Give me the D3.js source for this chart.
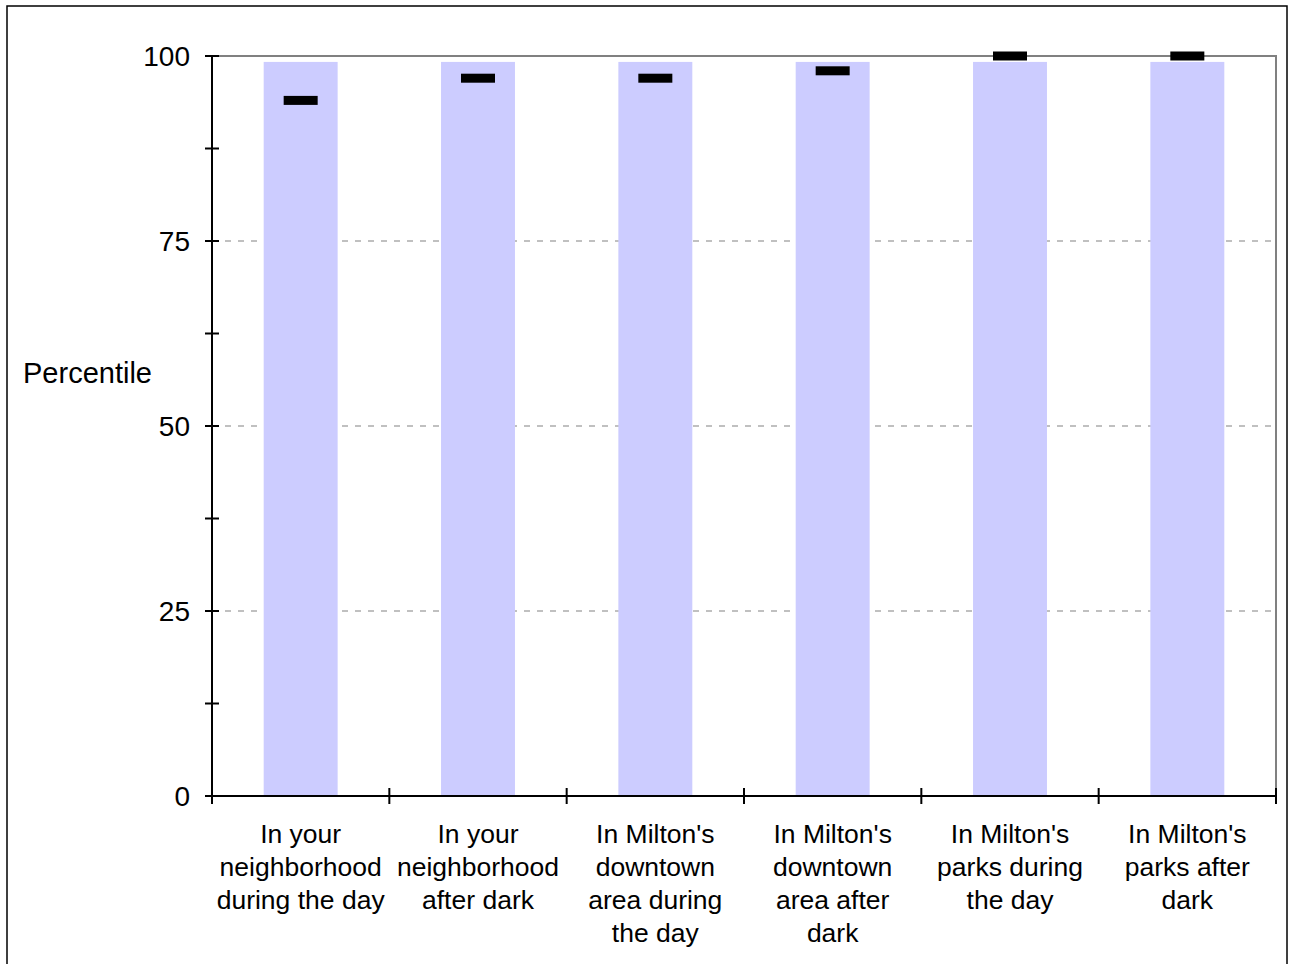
<!DOCTYPE html>
<html><head><meta charset="utf-8">
<script src="https://cdn.jsdelivr.net/npm/d3@7"></script>
<style>body{margin:0;background:#fff;} text{font-family:"Liberation Sans",Arial,sans-serif;}</style>
</head><body><svg id="c" width="1292" height="964"></svg>
<script>
const categories = [
  ["In your","neighborhood","during the day"],
  ["In your","neighborhood","after dark"],
  ["In Milton's","downtown","area during","the day"],
  ["In Milton's","downtown","area after","dark"],
  ["In Milton's","parks during","the day"],
  ["In Milton's","parks after","dark"]
];
const barValues = [99.2, 99.2, 99.2, 99.2, 99.2, 99.2];
const markerValues = [94, 97, 97, 98, 100, 100];
const yTicks = [0, 25, 50, 75, 100];
const yMinorTicks = [12.5, 37.5, 62.5, 87.5];

const svg = d3.select("#c");
const L = 212, R = 1276, T = 56, B = 796;
const x = d3.scaleBand().domain(d3.range(categories.length)).range([L, R]).paddingInner(0).paddingOuter(0);
const y = d3.scaleLinear().domain([0, 100]).range([B, T]);

svg.append("rect").attr("x", 7).attr("y", 6).attr("width", 1280).attr("height", 970)
  .attr("fill", "none").attr("stroke", "#000").attr("stroke-width", 1.5);

// grid
svg.append("g").selectAll("line").data(yTicks.filter(d => d > 0 && d < 100)).join("line")
  .attr("x1", L).attr("x2", R).attr("y1", d => y(d)).attr("y2", d => y(d))
  .attr("stroke", "#c0c0c0").attr("stroke-width", 2).attr("stroke-dasharray", "6,7");

// plot border top/right
svg.append("path").attr("d", `M${L},${y(100)}H${R}V${B}`).attr("fill", "none")
  .attr("stroke", "#808080").attr("stroke-width", 2);

// bars
const bw = x.bandwidth() * 0.417;
svg.append("g").selectAll("rect").data(barValues).join("rect")
  .attr("x", (d, i) => x(i) + x.bandwidth() / 2 - bw / 2)
  .attr("width", bw)
  .attr("y", d => y(d)).attr("height", d => B - y(d))
  .attr("fill", "#ccccff");

// markers
const mw = 34, mh = 9;
svg.append("g").selectAll("rect").data(markerValues).join("rect")
  .attr("x", (d, i) => x(i) + x.bandwidth() / 2 - mw / 2)
  .attr("width", mw)
  .attr("y", d => y(d) - mh / 2).attr("height", mh)
  .attr("fill", "#000");

// y axis
const yAxis = svg.append("g");
yAxis.append("line").attr("x1", L).attr("x2", L).attr("y1", T).attr("y2", B).attr("stroke", "#000").attr("stroke-width", 2);
yAxis.selectAll("line.t").data(yTicks.concat(yMinorTicks)).join("line").attr("class", "t")
  .attr("x1", L - 7).attr("x2", L + 7).attr("y1", d => y(d)).attr("y2", d => y(d))
  .attr("stroke", "#000").attr("stroke-width", 2);
yAxis.selectAll("text").data(yTicks).join("text")
  .attr("x", 190).attr("y", d => y(d)).attr("dy", "0.35em").attr("text-anchor", "end")
  .attr("font-size", 28).attr("fill", "#000").text(d => d);

// x axis
const xAxis = svg.append("g");
xAxis.append("line").attr("x1", L).attr("x2", R).attr("y1", B).attr("y2", B).attr("stroke", "#000").attr("stroke-width", 2);
xAxis.selectAll("line.t").data(d3.range(categories.length + 1)).join("line").attr("class", "t")
  .attr("x1", i => L + i * x.bandwidth()).attr("x2", i => L + i * x.bandwidth())
  .attr("y1", B - 8).attr("y2", B + 8).attr("stroke", "#000").attr("stroke-width", 2);
categories.forEach((lines, i) => {
  const t = xAxis.append("text").attr("text-anchor", "middle").attr("font-size", 26.5).attr("fill", "#000");
  lines.forEach((ln, k) => {
    t.append("tspan").attr("x", x(i) + x.bandwidth() / 2).attr("y", 843 + k * 33).text(ln);
  });
});

svg.append("text").attr("x", 23).attr("y", 373).attr("dy", "0.35em").attr("font-size", 29)
  .attr("fill", "#000").text("Percentile");
</script></body></html>
